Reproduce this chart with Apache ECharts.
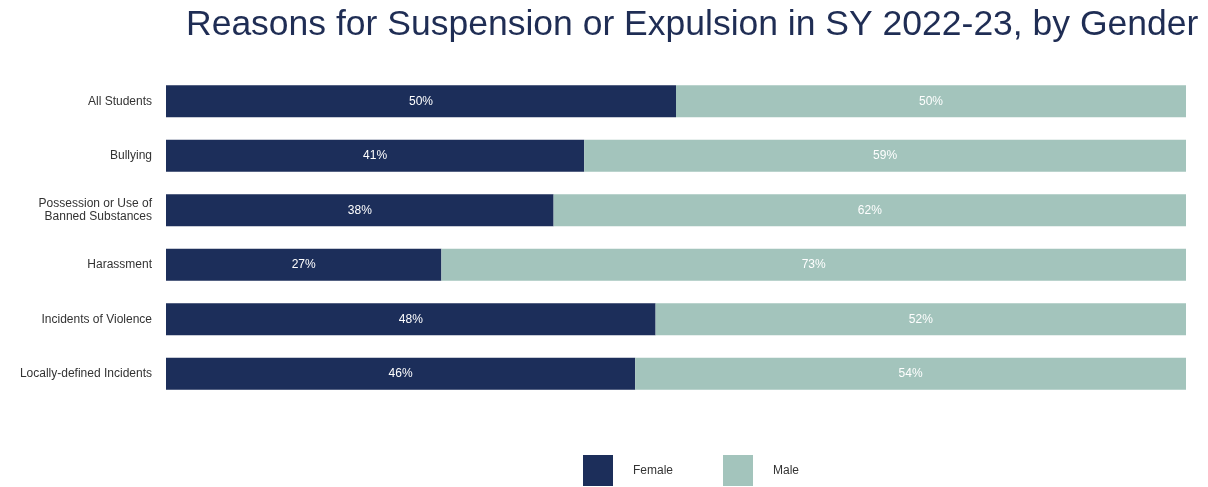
<!DOCTYPE html>
<html>
<head>
<meta charset="utf-8">
<script src="https://cdn.jsdelivr.net/npm/echarts@6/dist/echarts.min.js"></script>
<style>
  html, body { margin: 0; padding: 0; background: #ffffff; }
  #chart { width: 1208px; height: 487px; }
</style>
</head>
<body>
<div id="chart"></div>
<script>
// Reasons for suspension/expulsion, share by gender (percent)
const categories = [
  'All Students',
  'Bullying',
  'Possession or Use of\nBanned Substances',
  'Harassment',
  'Incidents of Violence',
  'Locally-defined Incidents'
];
const female = [50, 41, 38, 27, 48, 46];
const male = [50, 59, 62, 73, 52, 54];

const NAVY = '#1c2e5a';
const SAGE = '#a3c4bc';

const chart = echarts.init(document.getElementById('chart'));

const segLabel = {
  show: true,
  position: 'inside',
  color: '#ffffff',
  fontFamily: 'Liberation Sans, Arial, sans-serif',
  fontSize: 12,
  formatter: p => p.value + '%'
};

chart.setOption({
  animation: false,
  title: {
    text: 'Reasons for Suspension or Expulsion in SY 2022-23, by Gender',
    left: 181,
    top: 2,
    textStyle: {
      color: '#1f2d54',
      fontFamily: 'Liberation Sans, Arial, sans-serif',
      fontWeight: 'normal',
      fontSize: 35.5
    }
  },
  legend: {
    data: ['Female', 'Male'],
    left: 578,
    top: 450,
    itemWidth: 30,
    itemHeight: 31,
    itemGap: 50,
    icon: 'rect',
    textStyle: {
      color: '#333333',
      fontFamily: 'Liberation Sans, Arial, sans-serif',
      fontSize: 12,
      padding: [0, 0, 0, 15]
    }
  },
  grid: {
    left: 166,
    right: 22,
    top: 74,
    height: 327,
    containLabel: false
  },
  xAxis: {
    type: 'value',
    min: 0,
    max: 100,
    show: false
  },
  yAxis: {
    type: 'category',
    data: categories,
    inverse: true,
    axisLine: { show: false },
    axisTick: { show: false },
    splitLine: { show: false },
    axisLabel: {
      color: '#333333',
      fontFamily: 'Liberation Sans, Arial, sans-serif',
      fontSize: 12,
      lineHeight: 13,
      margin: 14,
      align: 'right'
    }
  },
  series: [
    {
      name: 'Female',
      type: 'bar',
      stack: 'gender',
      barWidth: 32,
      data: female,
      itemStyle: { color: NAVY },
      label: segLabel
    },
    {
      name: 'Male',
      type: 'bar',
      stack: 'gender',
      barWidth: 32,
      data: male,
      itemStyle: { color: SAGE },
      label: segLabel
    }
  ]
});
</script>
</body>
</html>
